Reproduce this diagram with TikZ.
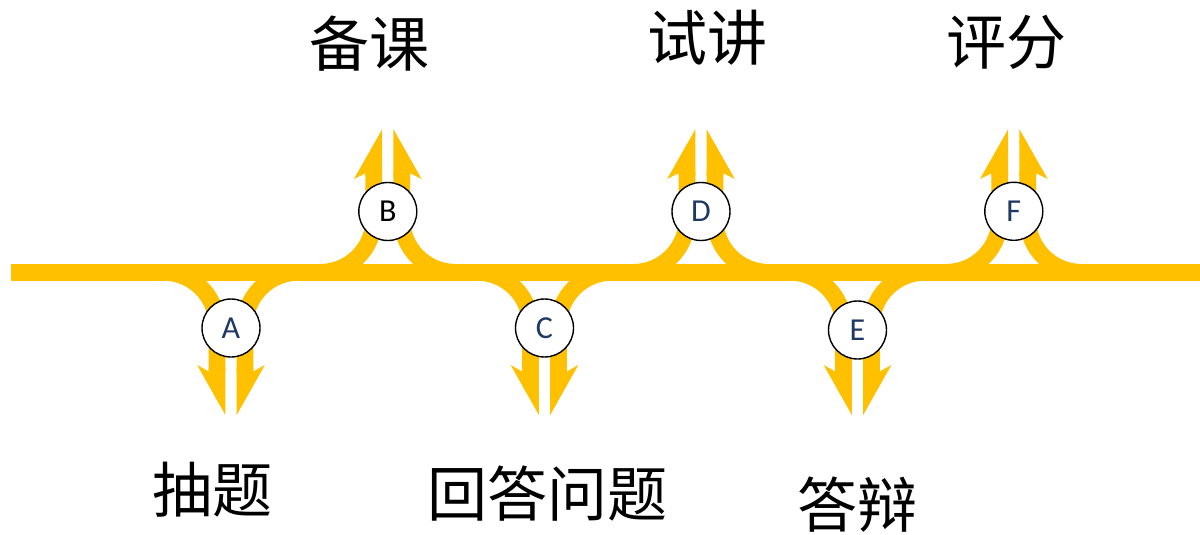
\documentclass[tikz,border=0pt]{standalone}
\usepackage{fontspec}
\newfontfamily\cjk{Noto Sans CJK SC}
\newfontfamily\lat{Carlito}
\definecolor{gold}{HTML}{FFC000}
\definecolor{navy}{HTML}{203864}
\begin{document}
\begin{tikzpicture}[x=1pt,y=-1pt,
  band/.style={draw=gold,line width=16.7pt},
  headfill/.style={fill=gold},
  circ/.style={circle,draw=black,line width=1.4pt,fill=white,minimum size=58pt,inner sep=0pt,font=\lat\fontsize{32}{32}\selectfont},
  lbl/.style={inner sep=0pt,font=\cjk\fontsize{60}{60}\selectfont}]
\useasboundingbox (0,0) rectangle (1200,535);
\def\by{272.3}
\draw[band] (11,\by) -- (1200,\by);
% downward branches
\foreach \X/\L/\cy/\col in {231/A/328/navy,544.5/C/328/navy,857.5/E/330/navy}{
  \draw[band] (\X-67.5,\by) arc[start angle=-90,end angle=0,radius=53.5] -- (\X-14,372);
  \fill[headfill] (\X-22.35,371.5) -- (\X-33.85,365) -- (\X-5.65,415) -- (\X-5.65,368) -- (\X-22.35,368) -- cycle;
  \draw[band] (\X+67.5,\by) arc[start angle=-90,end angle=-180,radius=53.5] -- (\X+14,372);
  \fill[headfill] (\X+22.35,371.5) -- (\X+33.85,365) -- (\X+5.65,415) -- (\X+5.65,368) -- (\X+22.35,368) -- cycle;
  \node[circ] (\L) at (\X,\cy) {\color{\col}\L};
}
% upward branches
\foreach \X/\L/\cy/\col in {387.8/B/211.5/black,701/D/211.5/navy,1013.8/F/211.3/navy}{
  \draw[band] (\X-67.5,\by) arc[start angle=90,end angle=0,radius=53.5] -- (\X-14,172);
  \fill[headfill] (\X-22.35,173.3) -- (\X-33.85,179) -- (\X-5.65,129.3) -- (\X-5.65,176) -- (\X-22.35,176) -- cycle;
  \draw[band] (\X+67.5,\by) arc[start angle=90,end angle=180,radius=53.5] -- (\X+14,172);
  \fill[headfill] (\X+22.35,173.3) -- (\X+33.85,179) -- (\X+5.65,129.3) -- (\X+5.65,176) -- (\X+22.35,176) -- cycle;
  \node[circ] (\L) at (\X,\cy) {\color{\col}\L};
}
\node[lbl] (beike) at (369,44) {备课};
\node[lbl] (shijiang) at (707,38) {试讲};
\node[lbl] (pingfen) at (1006,42) {评分};
\node[lbl] (chouti) at (212,490) {抽题};
\node[lbl] (huida) at (547.5,494) {回答问题};
\node[lbl] (dabian) at (857,505) {答辩};
\end{tikzpicture}
\end{document}
